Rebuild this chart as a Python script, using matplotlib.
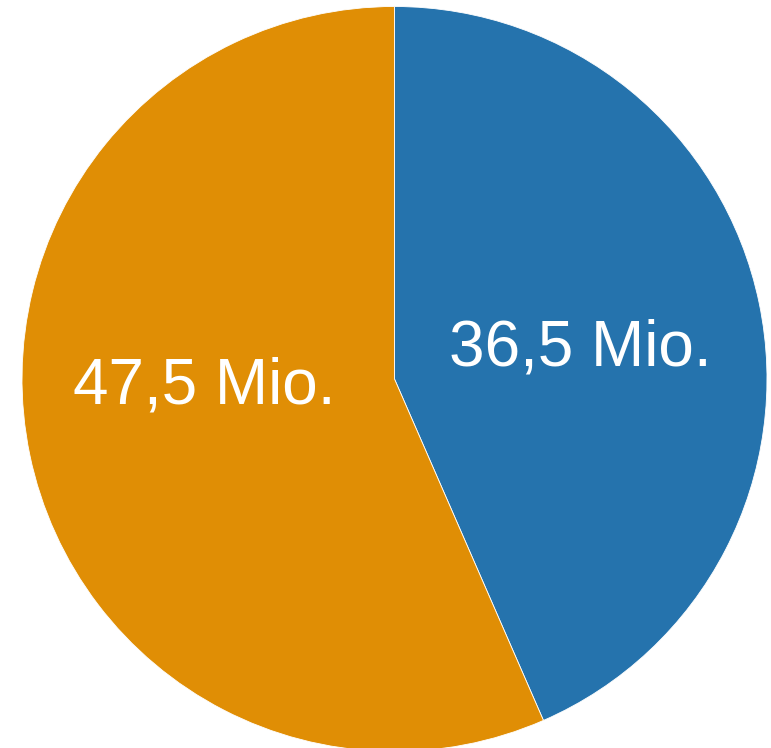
import matplotlib
matplotlib.use("Agg")
import matplotlib.pyplot as plt
import numpy as np

labels = ["36,5 Mio.", "47,5 Mio."]
values = [36.5, 47.5]
colors = ["#2573ad", "#e08e05"]

W, H = 771, 748
cx, cy, R = 394.5, 379.0, 372.5

fig = plt.figure(figsize=(W / 100, H / 100), dpi=100)
ax = fig.add_axes([0, 0, 1, 1])
wedges, texts = ax.pie(values, colors=colors, startangle=90, counterclock=False,
                       labels=labels, labeldistance=0.5,
                       wedgeprops=dict(edgecolor="white", linewidth=0.6),
                       textprops=dict(color="white", fontsize=46,
                                      family=["Liberation Sans", "DejaVu Sans"],
                                      ha="center", va="center"))
# label placement as in reference
texts[0].set_position((0.50, 0.083))
texts[1].set_position((-0.51, -0.02))
ax.set_aspect("auto")
ax.set_xlim(-cx / R, (W - cx) / R)
ax.set_ylim(-(H - cy) / R, cy / R)
ax.axis("off")
fig.savefig("out.png", dpi=100)
